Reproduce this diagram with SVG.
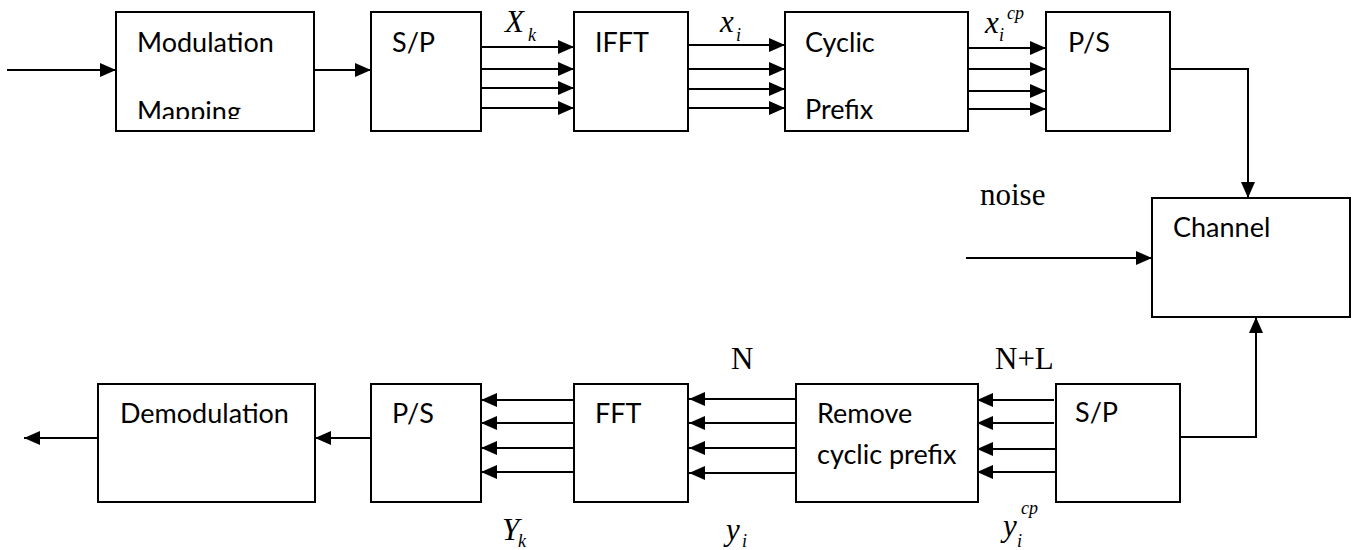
<svg xmlns="http://www.w3.org/2000/svg" width="1353" height="550" viewBox="0 0 1353 550">
<style>
.box{fill:#fff;stroke:#000;stroke-width:2}
.lbl{font-family:Lato,"Liberation Sans",sans-serif;font-size:27px;fill:#000}
.ser{font-family:"Liberation Serif","Times New Roman",serif;font-size:31px;fill:#000}
.it{font-family:"Liberation Serif","Times New Roman",serif;font-style:italic;font-size:31px;fill:#000}
.sub{font-family:"Liberation Serif","Times New Roman",serif;font-style:italic;font-size:18px;fill:#000}
.ln{fill:none;stroke:#000;stroke-width:2}
</style>
<defs>
<marker id="ah" markerUnits="userSpaceOnUse" markerWidth="16" markerHeight="14" refX="16" refY="7" orient="auto" viewBox="0 0 16 14">
<path d="M0,0 L16,7 L0,14 z" fill="#000"/>
</marker>
<clipPath id="clipMap"><rect x="116" y="12" width="198" height="107"/></clipPath>
</defs>
<rect width="1353" height="550" fill="#fff"/>

<g id="connectors">
<line class="ln" x1="7" y1="70" x2="116" y2="70" marker-end="url(#ah)"/>
<line class="ln" x1="314" y1="70" x2="371" y2="70" marker-end="url(#ah)"/>
<line class="ln" x1="481" y1="47" x2="574" y2="47" marker-end="url(#ah)"/>
<line class="ln" x1="481" y1="69" x2="574" y2="69" marker-end="url(#ah)"/>
<line class="ln" x1="481" y1="88" x2="574" y2="88" marker-end="url(#ah)"/>
<line class="ln" x1="481" y1="108" x2="574" y2="108" marker-end="url(#ah)"/>
<line class="ln" x1="688" y1="45" x2="785" y2="45" marker-end="url(#ah)"/>
<line class="ln" x1="688" y1="69" x2="785" y2="69" marker-end="url(#ah)"/>
<line class="ln" x1="688" y1="89" x2="785" y2="89" marker-end="url(#ah)"/>
<line class="ln" x1="688" y1="108" x2="785" y2="108" marker-end="url(#ah)"/>
<line class="ln" x1="968" y1="48" x2="1046" y2="48" marker-end="url(#ah)"/>
<line class="ln" x1="968" y1="69" x2="1046" y2="69" marker-end="url(#ah)"/>
<line class="ln" x1="968" y1="91" x2="1046" y2="91" marker-end="url(#ah)"/>
<line class="ln" x1="968" y1="109" x2="1046" y2="109" marker-end="url(#ah)"/>
<path class="ln" d="M1170,69 H1248 V198" marker-end="url(#ah)"/>
<line class="ln" x1="966" y1="258" x2="1152" y2="258" marker-end="url(#ah)"/>
<path class="ln" d="M1180,437 H1256 V317" marker-end="url(#ah)"/>
<line class="ln" x1="98" y1="438" x2="24" y2="438" marker-end="url(#ah)"/>
<line class="ln" x1="371" y1="438" x2="315" y2="438" marker-end="url(#ah)"/>
<line class="ln" x1="574" y1="400" x2="481" y2="400" marker-end="url(#ah)"/>
<line class="ln" x1="577" y1="423" x2="481" y2="423" marker-end="url(#ah)"/>
<line class="ln" x1="577" y1="448" x2="481" y2="448" marker-end="url(#ah)"/>
<line class="ln" x1="577" y1="472" x2="481" y2="472" marker-end="url(#ah)"/>
<line class="ln" x1="796" y1="399" x2="689" y2="399" marker-end="url(#ah)"/>
<line class="ln" x1="798" y1="423" x2="689" y2="423" marker-end="url(#ah)"/>
<line class="ln" x1="798" y1="448" x2="689" y2="448" marker-end="url(#ah)"/>
<line class="ln" x1="798" y1="473" x2="689" y2="473" marker-end="url(#ah)"/>
<line class="ln" x1="1054" y1="400" x2="977" y2="400" marker-end="url(#ah)"/>
<line class="ln" x1="1054" y1="423" x2="977" y2="423" marker-end="url(#ah)"/>
<line class="ln" x1="1056" y1="449" x2="977" y2="449" marker-end="url(#ah)"/>
<line class="ln" x1="1056" y1="472" x2="977" y2="472" marker-end="url(#ah)"/>
</g>

<g id="modulation">
<rect class="box" x="116" y="12" width="198" height="119"/>
<text class="lbl" x="137" y="52">Modulation</text>
<text class="lbl" x="137" y="121" clip-path="url(#clipMap)">Mapping</text>
</g>
<g id="sp-tx">
<rect class="box" x="371" y="12" width="110" height="119"/>
<text class="lbl" x="392" y="52">S/P</text>
</g>
<g id="ifft">
<rect class="box" x="574" y="12" width="114" height="119"/>
<text class="lbl" x="595" y="52">IFFT</text>
</g>
<g id="cyclic-prefix">
<rect class="box" x="785" y="12" width="183" height="119"/>
<text class="lbl" x="805" y="52">Cyclic</text>
<text class="lbl" x="805" y="119">Prefix</text>
</g>
<g id="ps-tx">
<rect class="box" x="1046" y="12" width="124" height="119"/>
<text class="lbl" x="1068" y="52">P/S</text>
</g>
<g id="channel">
<rect class="box" x="1152" y="198" width="198" height="119"/>
<text class="lbl" x="1173" y="237">Channel</text>
</g>
<g id="demodulation">
<rect class="box" x="98" y="384" width="217" height="118"/>
<text class="lbl" x="120" y="423">Demodulation</text>
</g>
<g id="ps-rx">
<rect class="box" x="371" y="384" width="110" height="118"/>
<text class="lbl" x="392" y="423">P/S</text>
</g>
<g id="fft">
<rect class="box" x="574" y="384" width="114" height="118"/>
<text class="lbl" x="595" y="423">FFT</text>
</g>
<g id="remove-cp">
<rect class="box" x="796" y="384" width="182" height="118"/>
<text class="lbl" x="817" y="423">Remove</text>
<text class="lbl" x="817" y="464">cyclic prefix</text>
</g>
<g id="sp-rx">
<rect class="box" x="1056" y="384" width="124" height="118"/>
<text class="lbl" x="1075" y="422">S/P</text>
</g>

<g id="labels">
<text class="it" x="505" y="32">X</text><text class="sub" x="528" y="41">k</text>
<text class="it" x="720" y="32">x</text><text class="sub" x="736" y="41">i</text>
<text class="it" x="985" y="33">x</text><text class="sub" x="999" y="41">i</text><text class="sub" x="1007" y="19">cp</text>
<text class="ser" x="980" y="205">noise</text>
<text class="ser" x="731" y="369">N</text>
<text class="ser" x="995" y="369">N+L</text>
<text class="it" x="502" y="540">Y</text><text class="sub" x="518" y="547">k</text>
<text class="it" x="726" y="540">y</text><text class="sub" x="742" y="547">i</text>
<text class="it" x="1003" y="536">y</text><text class="sub" x="1017" y="547">i</text><text class="sub" x="1021" y="514">cp</text>
</g>
</svg>
